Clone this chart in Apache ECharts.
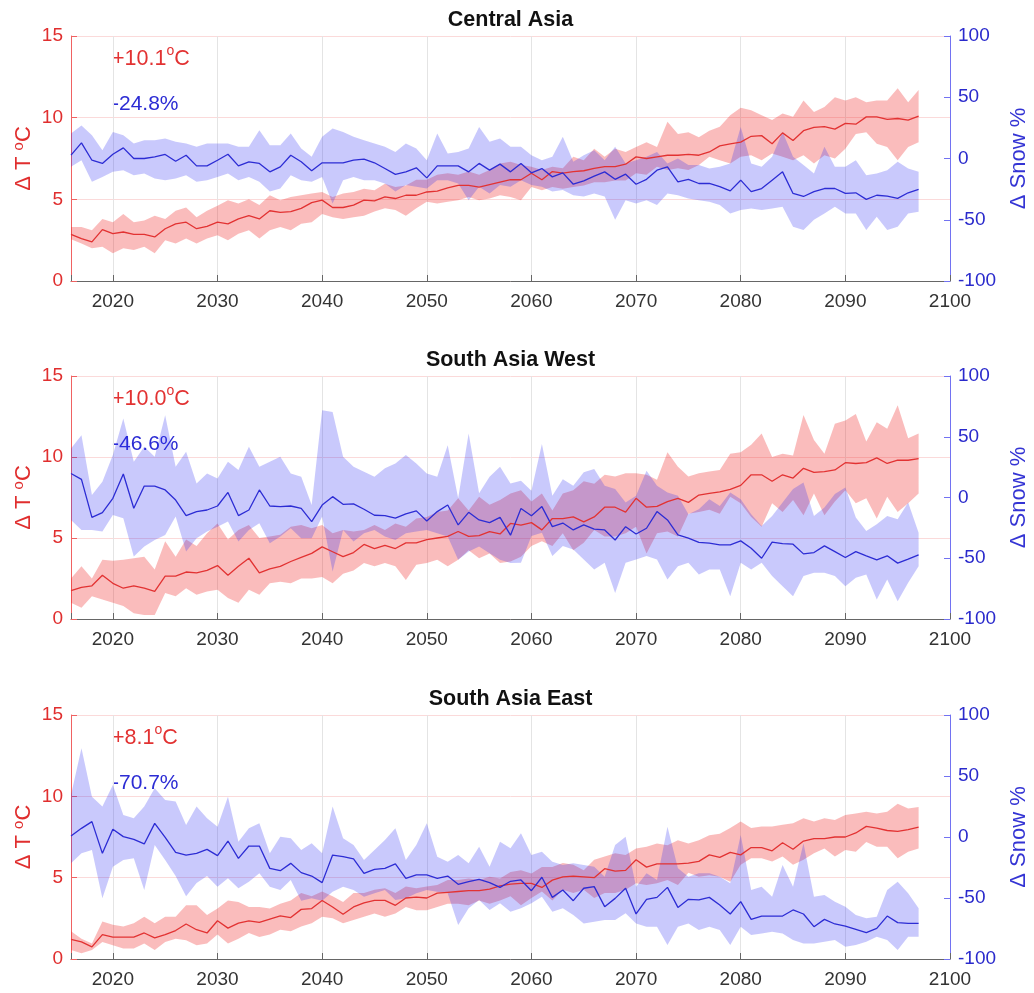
<!DOCTYPE html>
<html>
<head>
<meta charset="utf-8">
<script src="https://cdn.jsdelivr.net/npm/echarts@6/dist/echarts.min.js"></script>
<style>
html,body{margin:0;padding:0;background:#fff;}
#chart{width:1034px;height:993px;}
</style>
</head>
<body>
<div id="chart"></div>
<script>
// ---------------- DATA ----------------
const years = [];
for (let y = 2016; y <= 2097; y++) years.push(y);

const panelTitles = ['Central Asia', 'South Asia West', 'South Asia East'];
const tempChangeLabels = ['+10.1', '+10.0', '+8.1'];
const snowChangeLabels = ['-24.8%', '-46.6%', '-70.7%'];

// Central Asia
const caTemp = [2.85,2.6,2.4,3.15,2.9,3.0,2.85,2.85,2.7,3.2,
  3.5,3.6,3.2,3.35,3.6,3.5,3.8,4.0,3.8,4.3,
  4.2,4.25,4.45,4.8,4.95,4.5,4.5,4.65,4.95,4.9,
  5.15,5.05,5.25,5.25,5.45,5.5,5.7,5.85,5.85,5.75,
  5.9,6.05,6.2,6.2,6.6,6.2,6.7,6.6,6.7,6.75,
  6.9,7.0,7.0,7.15,7.6,7.5,7.6,7.7,7.7,7.75,
  7.7,7.9,8.27,8.4,8.5,8.86,8.9,8.4,9.07,8.6,
  9.2,9.4,9.45,9.3,9.65,9.6,10.05,10.05,9.9,9.95,
  9.85,10.1];
const caTempHi = [3.3,3.3,3.1,3.8,3.6,4.1,3.6,3.7,4.0,3.8,
  4.3,4.5,3.9,4.3,4.6,4.95,4.75,5.0,4.65,5.25,
  4.95,5.15,5.25,5.35,5.45,5.15,5.35,5.45,5.65,5.55,
  5.95,5.75,5.85,6.2,6.2,6.5,6.6,6.5,6.7,6.5,
  6.8,7.2,7.3,7.1,7.0,6.8,7.0,6.9,7.6,7.4,
  8.1,7.6,8.1,7.9,8.2,8.5,8.2,9.75,9.0,9.1,
  8.8,9.2,9.45,10.15,10.6,10.45,10.15,9.85,10.25,10.05,
  11.05,10.35,10.65,11.25,11.05,11.25,10.95,11.05,11.05,11.8,
  10.95,11.7];
const caTempLo = [2.55,2.3,2.0,2.1,1.7,2.0,1.9,2.1,1.7,2.5,
  2.3,2.6,2.3,2.6,2.8,2.5,2.9,3.1,2.6,3.1,
  3.3,3.1,3.5,3.6,4.1,3.9,3.8,3.9,4.0,4.25,
  4.45,4.35,4.0,4.45,4.85,4.75,4.85,4.95,5.15,4.95,
  5.05,5.25,5.15,4.95,5.75,5.55,5.75,5.65,5.75,5.85,
  6.05,6.05,6.15,6.15,6.6,6.5,7.0,6.8,6.9,6.8,
  7.1,7.6,7.4,7.2,7.6,7.7,7.4,7.8,7.6,7.4,
  7.7,7.2,7.7,7.5,8.1,9.0,9.1,8.4,8.2,7.4,
  8.2,8.5];
const caSnow = [2.7,12.8,-1.4,-4,3.5,8.7,0,0,1.4,3.3,
  -2.2,2.7,-6,-6,-1.4,3.5,-6,-2.7,-4,-10.9,
  -6.8,2.7,-2.7,-10,-3.5,-3.5,-3.5,-1.4,-0.5,-3.5,
  -8.2,-13,-10.9,-7.6,-15.8,-6,-6,-6,-10.9,-4,
  -9.5,-4.6,-10.9,-4,-11.7,-8.2,-15,-11.7,-21,-18.2,
  -14.4,-10.9,-17,-12.8,-21,-17,-9.5,-6.8,-19,-17,
  -20.4,-20.4,-23,-26.4,-17.7,-27,-24.5,-17.7,-10.9,-28.5,
  -31,-27,-24.5,-24.5,-28.5,-28,-33.4,-30,-30.7,-32.6,
  -28,-25.3];
const caSnowHi = [20.4,27,19,6.8,21.7,19,12.2,15,15,16.3,
  13.6,12.2,9.5,12.2,12.2,12.2,9.5,9.5,23,10.9,
  10.9,20.4,8.2,1.4,17.7,24.5,21.7,17.7,15,12.2,
  9.5,5.4,12.2,8.2,-1.4,20.4,4,5.4,8.2,25.8,
  13.6,16.3,9.5,9.5,2.7,-1.4,1.4,17.7,-2.7,2.7,
  6.8,-1.4,9.5,-4,-1.4,1.4,5.4,-4,0,-5.4,
  -5.4,-8.2,-6.8,-4,25.8,-4,-6.8,1.4,21.7,1.4,
  -5.4,-12.2,9.5,-6.8,-6.8,-1.4,-13.6,-12.2,-9.5,-2.7,
  -8.2,-10.9];
const caSnowLo = [-6.8,-1.4,-19,-15,-10.9,-9.5,-13.6,-12.2,-16.3,-17.7,
  -16.3,-13.6,-19,-17.7,-15,-12.2,-17.7,-15,-19,-27,
  -24.5,-13.6,-17.7,-19,-15,-36.7,-17.7,-15,-17.7,-17.7,
  -20.4,-27,-21.7,-23,-24.5,-17.7,-17.7,-20.4,-34,-23,
  -28.5,-21.7,-23,-17.7,-21.7,-23,-27,-25.8,-30,-31,
  -28.5,-31,-50,-34,-36.7,-34,-38,-28.5,-30,-32.6,
  -34,-35.3,-38,-44.8,-42,-40.8,-42,-40.8,-39.4,-55.7,
  -58.4,-50,-44.8,-39.4,-44.8,-44.8,-58.4,-47.6,-58.4,-55.7,
  -44.8,-43.5];

// South Asia West
const swTemp = [1.75,1.95,2.05,2.7,2.2,1.9,2.05,1.9,1.7,2.65,
  2.65,2.9,2.85,3.0,3.3,2.7,3.25,3.75,2.85,3.1,
  3.25,3.55,3.8,4.05,4.45,4.15,3.85,4.1,4.6,4.35,
  4.55,4.35,4.7,4.7,4.9,5.0,5.1,5.4,5.1,5.15,
  5.4,5.25,5.9,5.8,5.95,5.5,6.2,6.2,6.3,6.0,
  6.3,6.9,6.9,6.6,7.45,6.9,6.95,7.25,7.45,7.2,
  7.65,7.75,7.85,8.0,8.25,8.9,8.9,8.5,8.9,8.7,
  9.3,9.05,9.1,9.2,9.65,9.6,9.65,9.95,9.6,9.8,
  9.8,9.9];
const swTempHi = [2.5,3.25,2.5,3.65,3.6,3.65,3.75,3.85,3.05,4.8,
  3.85,4.9,4.5,5.3,5.9,4.9,5.5,5.8,5.0,5.1,
  5.2,5.7,5.8,5.6,5.8,5.3,5.5,5.4,5.5,5.8,
  5.5,5.9,5.7,6.2,6.3,6.6,6.7,7.45,6.7,7.55,
  7.05,7.35,7.75,7.95,7.25,7.75,6.7,7.75,7.95,8.5,
  8.35,8.9,8.8,9.0,9.0,8.9,8.6,10.3,9.4,8.8,
  9.0,9.1,9.2,10.2,10.3,10.75,11.45,10.0,10.2,10.1,
  12.6,11.05,10.2,12.05,12.25,12.65,10.95,12.15,11.75,13.2,
  11.15,11.45];
const swTempLo = [1.0,0.7,1.4,1.2,1.0,0.8,0.35,0.25,0.25,1.6,
  1.4,1.9,1.5,1.7,1.8,1.3,1.0,1.8,1.5,2.2,
  2.3,2.2,2.5,2.5,2.6,2.2,2.8,3.0,3.45,3.25,
  3.45,3.25,2.4,3.35,3.45,3.65,3.25,3.65,4.25,3.75,
  4.05,3.45,3.55,3.85,4.5,4.8,4.5,5.3,4.25,4.7,
  5.5,5.1,5.1,5.3,5.7,4.05,5.3,5.4,5.1,6.5,
  6.6,6.75,6.5,7.55,7.15,6.3,5.7,7.15,6.6,7.35,
  6.4,7.75,6.4,7.25,7.95,7.15,7.45,6.2,7.55,6.6,
  7.15,7.75];
const swSnow = [19.8,14.9,-16.3,-12.4,-0.7,19.3,-8.9,9.4,9.4,6.2,
  -2.1,-14.9,-11.6,-10.3,-7,4.2,-14.9,-10.3,6.2,-7,
  -7.5,-7,-8.9,-19.8,-6.2,0.7,-5.6,-5.3,-9.7,-14.6,
  -14.9,-17,-13.5,-11,-19.3,-11.6,-6.2,-22.6,-12.2,-18.5,
  -20.7,-16.3,-31,-9,-15,-7.5,-24,-21,-26.7,-22.6,
  -26,-26.7,-35,-24,-30,-25.3,-11.6,-18.5,-30.8,-33.5,
  -37,-37.6,-39,-39,-35.7,-41.7,-50,-36.8,-38,-38.4,
  -46.4,-45.3,-39.8,-44.5,-49.4,-44.5,-48,-51.3,-48,-54,
  -50.7,-47.2];
const swSnowHi = [40.4,51.3,2,13,35,65,29.5,41.7,33.5,67.7,
  25.3,37.6,11.6,19.8,15.7,29.5,22.6,41.7,25.3,29.5,
  33.5,19.8,17,-6.2,71.8,70.4,33.5,25.3,21.2,17,
  24,28,35,28,19.8,17,43,-0.7,52.7,3.4,
  17,25.3,11.6,13.8,5.5,44,1.4,15,9.6,20.7,
  23.4,9.6,6.9,-4.1,1.4,22,9.6,4.1,1.4,-13.8,
  -9.6,-1.4,-6.9,4.1,-1.4,-13.8,-23.4,-15.2,-4.1,6.9,
  12.4,-15.2,-8.3,2.8,8.3,-16.5,-27.5,-22,-15.2,-17.9,
  -4.1,-29];
const swSnowLo = [-18.5,-26.7,-26.7,-28,-14.4,-17,-48.6,-40.4,-34.9,-30.8,
  -15.7,-44.5,-33.5,-28,-24,-19.8,-36.3,-26.7,-21.2,-37.6,
  -32.1,-25.3,-33.5,-33.5,-15.7,-60.9,-26.7,-36.3,-29.4,-26.7,
  -32.1,-34.9,-29.4,-28,-26.7,-29.4,-32.1,-51.3,-44.5,-40.4,
  -45.8,-51.3,-54,-53.7,-31.7,-29,-48.2,-40,-42.7,-51,
  -59.2,-53.7,-78.5,-53.7,-51,-48.2,-51,-67.5,-56.5,-53.7,
  -63.4,-59.2,-59.2,-81.3,-53.7,-59.2,-53.7,-64.7,-73,-81.3,
  -64.7,-62,-62,-64.7,-73,-66.1,-63.4,-84,-67.5,-85.4,
  -70.2,-56.5];

// South Asia East
const seTemp = [1.2,1.05,0.75,1.5,1.35,1.35,1.35,1.6,1.3,1.5,
  1.75,2.15,1.8,1.6,2.35,1.9,2.2,2.35,2.25,2.45,
  2.65,2.55,3.05,3.1,3.6,3.2,2.75,3.2,3.45,3.6,
  3.6,3.3,3.75,3.8,3.75,4.05,4.1,4.15,4.2,4.2,
  4.3,4.5,4.6,4.65,4.65,4.4,4.85,5.05,5.1,5.05,
  5.0,5.55,5.4,5.45,6.1,5.65,5.85,5.85,5.85,5.9,
  6.0,6.4,6.25,6.55,6.4,6.85,6.85,6.65,7.15,6.75,
  7.25,7.4,7.4,7.5,7.5,7.75,8.15,8.05,7.9,7.85,
  7.95,8.1];
const seTempHi = [1.7,1.25,0.95,2.3,2.1,2.0,2.2,2.6,2.2,2.6,
  2.6,3.3,3.3,2.7,3.1,3.6,3.5,3.2,3.2,3.1,
  3.4,3.6,4.05,3.85,4.15,3.85,3.5,4.05,4.05,4.25,
  4.35,4.05,4.45,4.35,4.45,4.55,4.85,4.85,4.95,4.85,
  5.05,4.95,5.35,5.45,5.25,5.65,5.65,5.9,5.8,5.45,
  6.1,6.3,6.5,6.4,6.8,6.9,7.1,7.0,7.3,7.1,
  7.3,7.6,7.7,8.05,8.45,8.05,8.15,8.15,8.25,8.35,
  8.65,8.45,8.65,8.55,8.85,8.95,9.05,8.95,9.05,9.55,
  9.25,9.35];
const seTempLo = [0.55,0.35,0.55,1.05,0.85,0.65,0.65,0.95,0.55,1.05,
  1.25,1.15,0.85,0.95,1.5,0.95,1.25,1.6,1.35,1.5,
  1.8,1.7,2.0,2.2,2.6,2.5,2.2,2.4,2.6,2.8,
  2.6,2.8,3.2,3.0,3.0,3.2,3.4,3.4,3.3,3.6,
  3.4,3.6,3.85,3.3,3.75,4.15,3.6,4.25,4.05,4.25,
  3.75,4.05,4.05,4.25,4.65,4.55,4.65,4.85,4.55,5.3,
  5.05,5.15,5.05,4.75,5.8,6.2,6.2,6.0,6.3,5.8,
  6.1,6.5,6.8,6.3,6.7,6.6,7.2,6.9,6.9,6.2,
  6.6,6.8];
const seSnow = [0.8,7.1,12.6,-13.4,6.3,0.3,-1.9,-5.7,11.2,-0.3,
  -12.6,-14.8,-13.4,-10.1,-15.3,-3.3,-17.5,-7.4,-7.4,-25.7,
  -27.6,-21.6,-29.2,-32,-37.4,-14.8,-16.1,-18,-29.8,-26.5,
  -25.7,-22.1,-33.9,-31.1,-31.1,-33.9,-32,-38.8,-36.6,-34.7,
  -37.4,-41.3,-36.3,-35.2,-44,-33,-49.5,-43.4,-52.2,-42,
  -40.7,-57.1,-50.3,-42,-63.1,-51.1,-49.5,-41.3,-57.7,-51.1,
  -51.6,-49.5,-55.7,-63.1,-53,-67.5,-64.8,-64.8,-64.8,-59.8,
  -63.1,-73.5,-67.5,-71.3,-73,-75.7,-78.4,-74.9,-64.8,-70.2,
  -70.8,-70.8];
const seSnowHi = [34.4,72.7,33,24.9,42.6,18,15.3,24.9,39.9,30.3,
  29,9.8,24.9,15.3,8.5,33,-3.8,7.1,11.2,-13.4,
  0.3,-1.1,-10.7,-5.2,-13.4,24.9,-1.1,-6.6,-18.9,-10.7,
  -2.5,7.1,-18.9,-6.6,11.2,-16.1,-20.2,-14.8,-21.6,-7.9,
  -24.3,-3.8,-9.3,3,-14.8,-12,-20.2,-23,-21.6,-23,
  -24.3,-32.5,-6.6,0.3,-40.7,-29.8,-35.2,8.5,-25.7,-32.5,
  -29.8,-29.8,-32.5,-38,1.6,-43.4,-40.7,-48.9,-23,-40.7,
  -5.2,-48.9,-47.5,-53,-57.1,-63.9,-66.7,-65.3,-43.4,-36.6,
  -46.2,-58.5];
const seSnowLo = [-21.6,-13.4,-10.7,-50.3,-24.3,-18.9,-17.5,-43.4,-6.6,-18.9,
  -32,-48.6,-37.7,-32,-40.7,-33.9,-42,-36.6,-29.8,-40.7,
  -43.4,-35.2,-52.2,-50.3,-52.2,-44.8,-40.7,-43.4,-48.9,-46.2,
  -43.4,-51.6,-50.3,-46.2,-43.4,-44.8,-46.2,-72.1,-58.5,-51.6,
  -59.8,-54.4,-61.2,-58.5,-54.4,-48.9,-61.2,-58.5,-63.9,-70.8,
  -69.4,-68,-68,-62.6,-70.8,-73.5,-73.5,-88.5,-73.5,-70.8,
  -76.2,-73.5,-76.2,-88.5,-73.5,-80.3,-79,-77.6,-79,-84.4,
  -87.2,-87.2,-85.8,-84.4,-89.9,-88.5,-85.8,-81.7,-84.4,-92.6,
  -81.7,-81.7];

// ---------------- CHART ----------------
const FONT = 'Liberation Sans, Arial, sans-serif';
const RED = '#e23232';
const BLUE = '#2c2cd4';
const RED_BAND = 'rgba(240,40,40,0.31)';
const BLUE_BAND = 'rgba(40,40,245,0.25)';

const panels = [
  {t: caTemp, tHi: caTempHi, tLo: caTempLo, s: caSnow, sHi: caSnowHi, sLo: caSnowLo},
  {t: swTemp, tHi: swTempHi, tLo: swTempLo, s: swSnow, sHi: swSnowHi, sLo: swSnowLo},
  {t: seTemp, tHi: seTempHi, tLo: seTempLo, s: seSnow, sHi: seSnowHi, sLo: seSnowLo}
];
const gridTops = [36, 376, 715];
const gridHeights = [245, 243, 244];
const GRID_LEFT = 71, GRID_W = 879;

const pairs = (arr) => arr.map((v, i) => [years[i], v]);

function bandSeries(xi, yi, lo, hi, color, z) {
  return {
    type: 'custom', xAxisIndex: xi, yAxisIndex: yi, silent: true, animation: false, z: z, clip: true,
    data: years.map((y, k) => [y, lo[k], hi[k]]),
    encode: {x: 0, y: [1, 2]},
    renderItem: function (params, api) {
      if (params.dataIndexInside !== 0) return null;
      const n = years.length;
      const upper = [], lower = [];
      for (let k = 0; k < n; k++) {
        upper.push(api.coord([api.value(0, k), api.value(2, k)]));
        lower.push(api.coord([api.value(0, k), api.value(1, k)]));
      }
      return {type: 'polygon', silent: true,
        shape: {points: upper.concat(lower.reverse())},
        style: {fill: color, stroke: null}};
    }
  };
}

const grids = [], xAxes = [], yAxes = [], series = [], graphics = [];

panels.forEach((p, i) => {
  grids.push({left: GRID_LEFT, width: GRID_W, top: gridTops[i], height: gridHeights[i],
    containLabel: false, outerBoundsMode: 'none'});
  xAxes.push({
    type: 'value', gridIndex: i, min: 2016, max: 2100, minInterval: 10, maxInterval: 10,
    axisLine: {show: true, onZero: false, lineStyle: {color: '#666', width: 1}},
    axisTick: {show: true, inside: true, length: 6, lineStyle: {color: '#666'}},
    axisLabel: {color: '#333', fontSize: 19, fontFamily: FONT, margin: 11, showMinLabel: true,
      formatter: (v) => (v % 10 === 0 ? String(v) : '')},
    splitLine: {show: true, lineStyle: {color: '#e4e4e4', width: 1}}
  });
  yAxes.push({
    type: 'value', gridIndex: i, position: 'left', min: 0, max: 15, interval: 5,
    axisLine: {show: true, lineStyle: {color: '#f06262', width: 1}},
    axisTick: {show: true, inside: true, length: 6, lineStyle: {color: '#f06262'}},
    axisLabel: {color: '#e02e2e', fontSize: 19, fontFamily: FONT, margin: 8},
    splitLine: {show: true, lineStyle: {color: '#fbdada', width: 1}},
    name: '{m|\u0394 T }{s|o}{m|C}', nameLocation: 'middle', nameGap: 35, nameRotate: 90,
    nameMoveOverlap: false,
    nameTextStyle: {color: '#e02e2e', fontFamily: FONT, rich: {
      m: {fontSize: 22, color: '#e02e2e', fontFamily: FONT, lineHeight: 25},
      s: {fontSize: 15, color: '#e02e2e', fontFamily: FONT, verticalAlign: 'top', lineHeight: 15}
    }}
  });
  yAxes.push({
    type: 'value', gridIndex: i, position: 'right', min: -100, max: 100, interval: 50,
    axisLine: {show: true, lineStyle: {color: '#7272f2', width: 1}},
    axisTick: {show: true, inside: true, length: 6, lineStyle: {color: '#7272f2'}},
    axisLabel: {color: '#2a2acc', fontSize: 19, fontFamily: FONT, margin: 8},
    splitLine: {show: false},
    name: '\u0394 Snow %', nameLocation: 'middle', nameGap: 58, nameRotate: 90,
    nameTextStyle: {color: '#3434d4', fontSize: 22, fontFamily: FONT}
  });
  const ly = 2 * i, ry = 2 * i + 1;
  series.push(bandSeries(i, ly, p.tLo, p.tHi, RED_BAND, 1));
  series.push(bandSeries(i, ry, p.sLo, p.sHi, BLUE_BAND, 2));
  const base = {type: 'line', xAxisIndex: i, symbol: 'none', silent: true, animation: false};
  series.push(Object.assign({}, base, {yAxisIndex: ly, data: pairs(p.t), lineStyle: {color: RED, width: 1.3}, z: 3}));
  series.push(Object.assign({}, base, {yAxisIndex: ry, data: pairs(p.s), lineStyle: {color: BLUE, width: 1.3}, z: 3}));

  // title
  graphics.push({type: 'text', x: GRID_LEFT + GRID_W / 2, y: gridTops[i] - 27,
    style: {text: panelTitles[i], fontSize: 21.5, fontWeight: 'bold', fontFamily: FONT, fill: '#111',
      align: 'center', textAlign: 'center'}});
  // annotations
  graphics.push({type: 'text', x: 112, y: gridTops[i] + 8,
    style: {text: '{m|' + tempChangeLabels[i] + '}{s|o}{m|C}', fill: RED, fontFamily: FONT,
      rich: {m: {fontSize: 21.5, fill: RED, fontFamily: FONT, lineHeight: 26, verticalAlign: 'bottom'},
             s: {fontSize: 14, fill: RED, fontFamily: FONT, lineHeight: 26, verticalAlign: 'top'}}}});
  graphics.push({type: 'text', x: 112, y: gridTops[i] + 58,
    style: {text: snowChangeLabels[i], fontSize: 21, fontFamily: FONT, fill: BLUE}});
});

const chart = echarts.init(document.getElementById('chart'), null, {renderer: 'canvas'});
chart.setOption({
  animation: false,
  backgroundColor: '#fff',
  textStyle: {fontFamily: FONT},
  grid: grids,
  xAxis: xAxes,
  yAxis: yAxes,
  series: series,
  graphic: graphics
});
</script>
</body>
</html>
